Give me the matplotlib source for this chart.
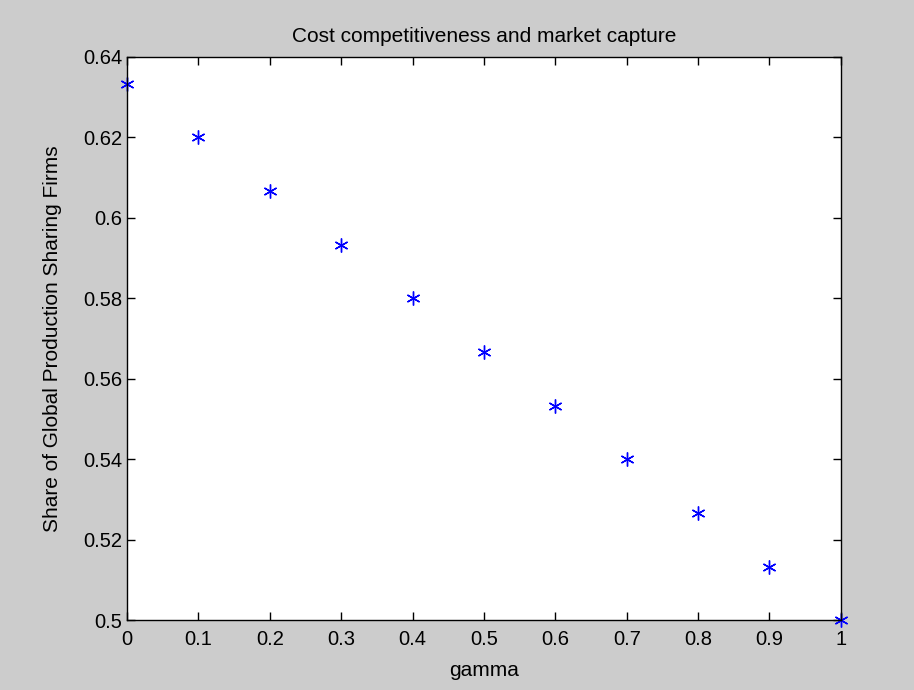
import matplotlib
matplotlib.use('Agg')
import matplotlib.pyplot as plt

plt.rcParams['font.family'] = ['Liberation Sans', 'DejaVu Sans']

# data
gamma = [0.0, 0.1, 0.2, 0.3, 0.4, 0.5, 0.6, 0.7, 0.8, 0.9, 1.0]
share = [0.6333, 0.6200, 0.6067, 0.5933, 0.5800, 0.5667,
         0.5533, 0.5400, 0.5267, 0.5133, 0.5000]
xticks = [0, 0.1, 0.2, 0.3, 0.4, 0.5, 0.6, 0.7, 0.8, 0.9, 1]
yticks = [0.5, 0.52, 0.54, 0.56, 0.58, 0.6, 0.62, 0.64]

fig = plt.figure(figsize=(9.14, 6.9), dpi=100, facecolor='#cccccc')
ax = fig.add_axes([0.139, 0.1014, 0.781, 0.816])
ax.set_facecolor('white')

# matlab style asterisk
ax.plot(gamma, share, linestyle='none', marker=(6, 2, 0), color='blue',
        markersize=10, markeredgewidth=1.0, clip_on=False)

ax.set_xlim(0, 1)
ax.set_ylim(0.5, 0.64)
ax.set_xticks(xticks)
ax.set_xticklabels([f'{t:g}' for t in xticks])
ax.set_yticks(yticks)
ax.set_yticklabels([f'{t:g}' for t in yticks])
ax.tick_params(direction='in', top=True, right=True, labelsize=14.5,
               length=6, width=1)
ax.tick_params(axis='x', pad=7)
for s in ax.spines.values():
    s.set_linewidth(1)

ax.set_title('Cost competitiveness and market capture', fontsize=15, pad=11)
ax.set_xlabel('gamma', fontsize=15, labelpad=9)
ax.set_ylabel('Share of Global Production Sharing Firms', fontsize=15,
              labelpad=15)

fig.savefig('out.png', dpi=100, facecolor=fig.get_facecolor())
